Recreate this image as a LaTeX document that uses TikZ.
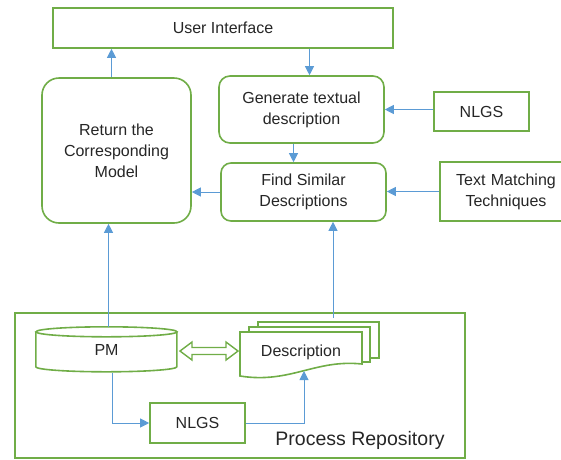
\documentclass[tikz,border=0pt]{standalone}
\usepackage{fontspec}
\setmainfont{Liberation Sans}
\usetikzlibrary{arrows.meta}
\definecolor{boxgreen}{RGB}{112,173,71}
\definecolor{arrowblue}{RGB}{91,155,213}
\definecolor{inktext}{RGB}{38,38,38}

\begin{document}
\begin{tikzpicture}[x=1pt,y=-1pt,
  box/.style={draw=boxgreen,line width=1.6pt,fill=white,text=inktext,align=center,
    inner sep=2pt,font=\fontsize{16}{21}\selectfont},
  rbox/.style={box,rounded corners=11pt},
  plain/.style={text=inktext,align=center,font=\fontsize{16}{21}\selectfont},
  shapeline/.style={draw=boxgreen,line width=1.6pt},
  arr/.style={draw=arrowblue,line width=1pt,-{Triangle[length=9pt,width=9pt]}}]
\useasboundingbox (0,0) rectangle (561,459);

% repository frame
\draw [shapeline] (15,313) rectangle (465,458);
\node [plain,font=\fontsize{19.5}{22}\selectfont] (repolbl) at (360,440) {Process Repository};

% upper part
\node [box,minimum width=340pt,minimum height=40pt] (ui) at (223,28) {User Interface};
\node [box,rounded corners=17pt,minimum width=149pt,minimum height=145pt] (ret) at (116.5,150.5)
  {Return the\\Corresponding\\Model};
\node [rbox,minimum width=165pt,minimum height=67pt] (gen) at (301.5,109.5)
  {Generate textual\\description};
\node [box,minimum width=95pt,minimum height=39pt] (nlgstop) at (481.5,111.5) {NLGS};
\node [rbox,rounded corners=10pt,minimum width=165pt,minimum height=58pt] (find) at (303.5,192)
  {Find Similar\\Descriptions};
\node [box,minimum width=140pt,minimum height=59pt,text width=120pt] (match) at (510,191.5)
  {\hspace*{-8pt}Text Matching\\\hspace*{-8pt}Techniques};

% process model store
\node [plain,minimum width=141pt,minimum height=46pt] (pm) at (106.5,350) {PM};
\draw [shapeline] (pm.north west) ++(0,5) -- ++(0,35) arc (180:0:70.5 and 5) -- ++(0,-35);
\draw [shapeline] (pm.north) ++(0,5) ellipse (70.5 and 5);

% description pages
\draw [shapeline] (258,327) -- (258,322) -- (379,322) -- (379,358) -- (370,358);
\draw [shapeline,fill=white] (249,332) -- (249,327) -- (370,327) -- (370,362) -- (362,362);
\draw [shapeline,fill=white] (240,332) -- (362,332) -- (362,364)
  .. controls (315,359) and (290,384) .. (240,376) -- cycle;
\node [plain] (desc) at (301,352) {Description};
\coordinate (desctop) at (333,318);
\coordinate (descfoot) at (304,371);

% two-way link
\draw [draw=boxgreen,line width=1.4pt,fill=white] (180,351) -- (192,342) -- (192,347.5)
  -- (226,347.5) -- (226,342) -- (238,351) -- (226,360) -- (226,354.5)
  -- (192,354.5) -- (192,360) -- cycle;

\node [box,minimum width=95pt,minimum height=40pt] (nlgsbot) at (197.5,423) {NLGS};

% connectors
\draw [arr] ([xshift=-5pt]ret.north) -- ([xshift=-5pt]ret.north |- ui.south);
\draw [arr] ([xshift=8pt]gen.north |- ui.south) -- ([xshift=8pt]gen.north);
\draw [arr] (nlgstop.west |- gen.east) -- (gen.east);
\draw [arr] ([xshift=-8pt]gen.south) -- ([xshift=-8pt]gen.south |- find.north);
\draw [arr] (match.west) -- (match.west -| find.east);
\draw [arr] (find.west) -- (find.west -| ret.east);
\draw [arr] ([xshift=2pt]pm.north) -- ([xshift=2pt]pm.north |- ret.south);
\draw [arr] (desctop) -- (desctop |- find.south);
\draw [arr] ([xshift=6pt]pm.south) |- (nlgsbot.west);
\draw [arr] (nlgsbot.east) -| (descfoot);
\end{tikzpicture}
\end{document}
